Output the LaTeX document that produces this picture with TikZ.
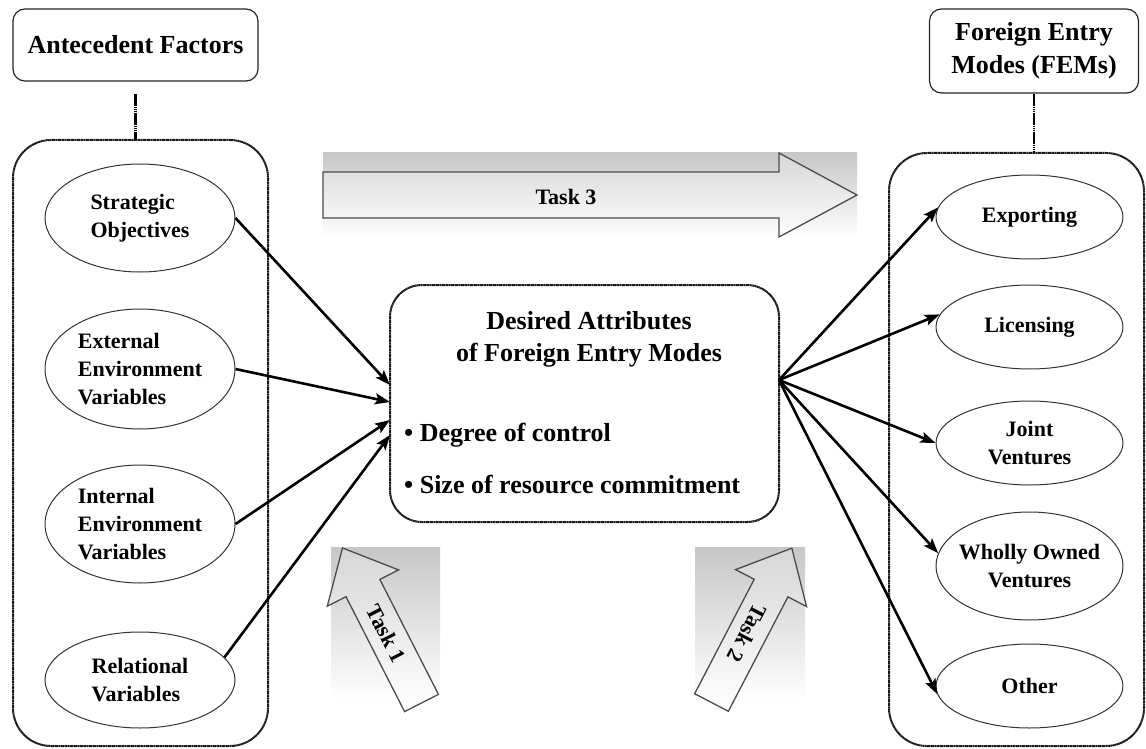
\documentclass[tikz,border=0pt]{standalone}
\usepackage{fontspec}
\setmainfont{Liberation Serif}
\usetikzlibrary{arrows.meta,shapes.geometric}

\begin{document}
\begin{tikzpicture}[x=1pt,y=-1pt,
  titlebox/.style={draw=black!85,line width=1.2pt,rounded corners=12pt,align=center,
    inner sep=0pt,font=\fontsize{26}{33}\selectfont\bfseries},
  groupbox/.style={draw=black!90,line width=2pt,rounded corners=38pt,
    dash pattern=on 1.5pt off 0.4pt,inner sep=0pt},
  attrbox/.style={draw=black!90,line width=2pt,rounded corners=32pt,
    dash pattern=on 1.5pt off 0.4pt,inner sep=0pt},
  factor/.style={ellipse,draw=black!80,line width=1pt,inner xsep=-10pt,inner ysep=0pt,
    font=\fontsize{22}{28}\selectfont\bfseries},
  bodytext/.style={inner sep=0pt,font=\fontsize{26}{32}\selectfont\bfseries},
  link/.style={line width=2.6pt,-{Stealth[length=15pt,width=11pt,inset=3pt]}},
  tether/.style={line width=2.4pt,dash pattern=on 1.5pt off 0.4pt},
  taskarrow/.style={draw=black!70,line width=1.3pt,top color=black!16,bottom color=white},
  taskshade/.style={top color=black!22,bottom color=white,draw=none},
  tasklabel/.style={inner sep=0pt,font=\fontsize{22}{26}\selectfont\bfseries},
]
\fill[white] (0,0) rectangle (1146,749);
\useasboundingbox (0,0) rectangle (1146,749);

% ---------- headings and group frames ----------
\node[titlebox,minimum width=245pt,minimum height=72pt] (af) at (135.5,45) {Antecedent Factors};
\node[titlebox,minimum width=209pt,minimum height=84pt] (fem) at (1034,51) {Foreign Entry\\Modes (FEMs)};

\node[groupbox,minimum width=255pt,minimum height=606pt] (lbox) at (140.5,443) {};
\node[groupbox,minimum width=255pt,minimum height=593pt] (rbox) at (1016.5,449.5) {};

\draw[tether] ([yshift=-12pt]af.south) -- (af.south |- lbox.north);
\draw[tether] (fem.south) -- (fem.south |- rbox.north);

% ---------- antecedent factors ----------
\node[factor,align=left,minimum width=190pt,minimum height=108pt] (so)  at (140,218) {Strategic\\Objectives};
\node[factor,align=left,minimum width=190pt,minimum height=120pt] (ext) at (140,369) {External\\Environment\\Variables};
\node[factor,align=left,minimum width=190pt,minimum height=118pt] (int) at (140,524) {Internal\\Environment\\Variables};
\node[factor,align=left,minimum width=190pt,minimum height=96pt]  (rel) at (140,680) {Relational\\Variables};

% ---------- entry modes ----------
\node[factor,align=center,minimum width=187pt,minimum height=84pt]  (exp) at (1029.5,217) {Exporting};
\node[factor,align=center,minimum width=187pt,minimum height=84pt]  (lic) at (1029.5,327) {Licensing};
\node[factor,align=center,minimum width=187pt,minimum height=84pt]  (jv)  at (1029.5,443) {Joint\\Ventures};
\node[factor,align=center,minimum width=187pt,minimum height=108pt] (wov) at (1029.5,566) {Wholly Owned\\Ventures};
\node[factor,align=center,minimum width=187pt,minimum height=84pt]  (oth) at (1029.5,686) {Other};

% ---------- desired attributes ----------
\node[attrbox,minimum width=389pt,minimum height=237pt] (cb) at (584.5,403.5) {};
\node[bodytext,align=center] (cbt) at (589,339) {Desired Attributes\\of Foreign Entry Modes};
\node[bodytext,anchor=west] (cb1) at (404,435) {\textbullet\ Degree of control};
\node[bodytext,anchor=west] (cb2) at (404,485) {\textbullet\ Size of resource commitment};

% ---------- arrows into and out of the attribute box ----------
\coordinate (in1) at (390,385);
\coordinate (in2) at (390,402);
\coordinate (in3) at (390,420);
\coordinate (in4) at (390,435);
\coordinate (hub) at (779,380);

\draw[link] (so.east)  -- (in1);
\draw[link] (ext.east) -- (in2);
\draw[link] (int.east) -- (in3);
\draw[link] (rel.15)   -- (in4);

\draw[link] (hub) -- (exp.174);
\draw[link] (hub) -- (lic.172);
\draw[link] (hub) -- (jv.west);
\draw[link] (hub) -- (wov.172);
\draw[link] (hub) -- (oth.185);

% ---------- task arrows ----------
\shade[taskshade] (323,153) rectangle (857,237);
\draw[taskarrow] (323,172) -- (779,172) -- (779,153) -- (857,195) -- (779,237) -- (779,218) -- (323,218) -- cycle;
\node[tasklabel] (t3) at (566,197) {Task 3};

\shade[taskshade] (331,547) rectangle (440,700);
\begin{scope}[shift={(421.5,703)},rotate=27]
  \draw[taskarrow] (-19,0) -- (-19,-129) -- (-40,-129) -- (0,-174) -- (40,-129) -- (19,-129) -- (19,0) -- cycle;
  \node[tasklabel,rotate=-63] (t1) at (0,-78) {Task 1};
\end{scope}

\shade[taskshade] (695,547) rectangle (805,700);
\begin{scope}[shift={(711.5,702.5)},rotate=-27.5]
  \draw[taskarrow] (-19,0) -- (-19,-129) -- (-40,-129) -- (0,-174) -- (40,-129) -- (19,-129) -- (19,0) -- cycle;
  \node[tasklabel,rotate=-117.5] (t2) at (0,-78) {Task 2};
\end{scope}
\end{tikzpicture}
\end{document}
